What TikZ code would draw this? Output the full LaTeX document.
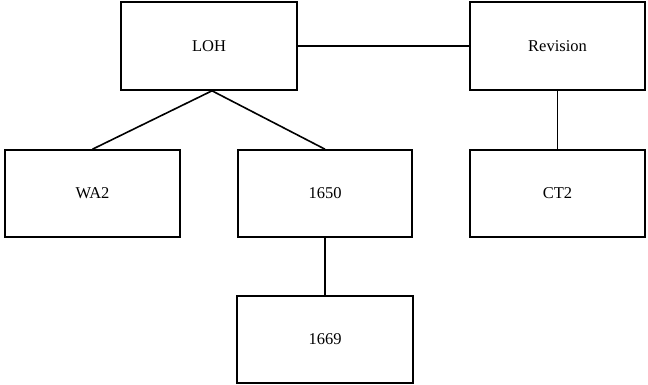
\documentclass[tikz,border=0pt]{standalone}
\usepackage{fontspec}
\setmainfont{Liberation Serif}
\begin{document}
\begin{tikzpicture}[x=1pt,y=-1pt,
  box/.style={draw,line width=1.6pt,rectangle,inner sep=0pt,font=\fontsize{16.5}{19}\selectfont},
  conn/.style={line width=1.6pt}]
\useasboundingbox (0,0) rectangle (648,385);
\node[box,minimum width=176pt,minimum height=88pt] (LOH) at (209,46) {LOH};
\node[box,minimum width=175pt,minimum height=88pt] (Rev) at (557.5,46) {Revision};
\node[box,minimum width=175pt,minimum height=87pt] (WA2) at (92.5,193.5) {WA2};
\node[box,minimum width=174pt,minimum height=87pt] (n1650) at (325,193.5) {1650};
\node[box,minimum width=175pt,minimum height=87pt] (CT2) at (557.5,193.5) {CT2};
\node[box,minimum width=176pt,minimum height=87pt] (n1669) at (325,339.5) {1669};
\coordinate (apex) at ([xshift=3pt]LOH.south);
\draw[conn] (LOH.east) -- (Rev.west);
\draw[conn] (apex) -- (WA2.north);
\draw[conn] (apex) -- (n1650.north);
\draw[conn] (Rev.south) -- (CT2.north);
\draw[conn] (n1650.south) -- (n1669.north);
\end{tikzpicture}
\end{document}
